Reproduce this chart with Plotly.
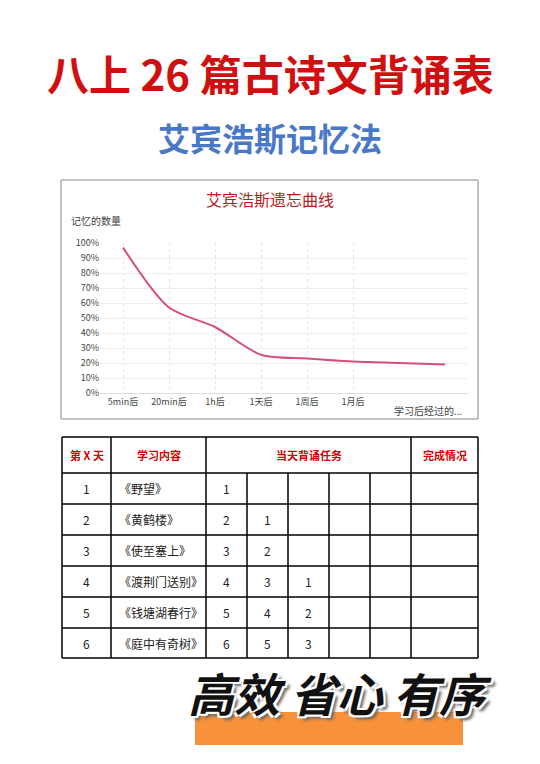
import plotly.graph_objects as go

# 页面有 8px 边距，图形尺寸相应缩小
OFF = 8
W, H = 540 - OFF, 764 - OFF

# 遗忘曲线数据
x_pos = [0, 1, 2, 3, 4, 5, 6, 7]
memory = [97, 57, 44, 25.5, 23, 21, 20, 19]
x_labels = ["5min后", "20min后", "1h后", "1天后", "1周后", "1月后"]
y_ticks = [0, 10, 20, 30, 40, 50, 60, 70, 80, 90, 100]

# 背诵表数据
headers = ["第 X 天", "学习内容", "当天背诵任务", "完成情况"]
days = ["1", "2", "3", "4", "5", "6"]
poems = ["《野望》", "《黄鹤楼》", "《使至塞上》", "《渡荆门送别》", "《钱塘湖春行》", "《庭中有奇树》"]
tasks = [["1"], ["2", "1"], ["3", "2"], ["4", "3", "1"], ["5", "4", "2"], ["6", "5", "3"]]

col_x = [62, 111, 206, 247, 288, 329, 370, 411, 478]
row_y = [437, 473, 504, 535, 566, 597, 628, 658]


def px(x):
    return (x - OFF) / W


def py(y):
    return 1 - (y - OFF) / H


FONT = "Noto Sans CJK SC"

fig = go.Figure()
fig.add_trace(go.Scatter(
    x=x_pos, y=memory, mode="lines", line=dict(color="#d4507a", width=2, shape="spline", smoothing=0.8),
    hoverinfo="y", showlegend=False,
))

shapes = []
ann = []


def text(t, x, y, size, color, xanchor="center", **kw):
    ann.append(dict(text=t, x=px(x), y=py(y), xref="paper", yref="paper", xanchor=xanchor, yanchor="middle",
                    showarrow=False, font=dict(family=FONT, size=size, color=color, **kw)))


# 图表外框
shapes.append(dict(type="rect", xref="paper", yref="paper", x0=px(61), x1=px(478), y0=py(419), y1=py(180),
                   line=dict(color="#888", width=1)))

# 表格线
lw = dict(color="black", width=1.5)
for y in row_y:
    shapes.append(dict(type="line", xref="paper", yref="paper", x0=px(col_x[0]), x1=px(col_x[-1]),
                       y0=py(y), y1=py(y), line=lw))
for i, x in enumerate(col_x):
    top = row_y[1] if 3 <= i <= 6 else row_y[0]
    shapes.append(dict(type="line", xref="paper", yref="paper", x0=px(x), x1=px(x),
                       y0=py(top), y1=py(row_y[-1]), line=lw))

# 表头
hdr_centers = [(col_x[0] + col_x[1]) / 2, (col_x[1] + col_x[2]) / 2, (col_x[2] + col_x[7]) / 2, (col_x[7] + col_x[8]) / 2]
for t, cx in zip(headers, hdr_centers):
    text("<b>%s</b>" % t, cx, (row_y[0] + row_y[1]) / 2, 11, "#d00000")

for r in range(len(days)):
    cy = (row_y[r + 1] + row_y[r + 2]) / 2
    text(days[r], (col_x[0] + col_x[1]) / 2, cy, 12, "#222")
    text(poems[r], col_x[1] + 6, cy, 12, "#222", xanchor="left")
    for c, v in enumerate(tasks[r]):
        text(v, col_x[2 + c] + 20, cy, 12, "#222")

# 标题
text("<b>八上 26 篇古诗文背诵表</b>", 270, 72, 42, "#d01010")
text("<b>艾宾浩斯记忆法</b>", 270, 137, 32, "#4a78c8")
text("艾宾浩斯遗忘曲线", 270, 199, 16, "#b81c1c")
text("记忆的数量", 69, 220, 10, "#444", xanchor="left")
text("学习后经过的...", 428, 410, 10, "#444")

# 底部标语
shapes.append(dict(type="rect", xref="paper", yref="paper", x0=px(195), x1=px(463), y0=py(745), y1=py(712),
                   fillcolor="#f7913a", line=dict(width=0), layer="below"))
text("<b><i>高效 省心 有序</i></b>", 340, 692, 46, "#111",
     shadow="2px 2px 0 #fff, -2px -2px 0 #fff, 2px -2px 0 #fff, -2px 2px 0 #fff, 4px 4px 3px #666")

fig.update_layout(
    width=W, height=H, margin=dict(l=0, r=0, t=0, b=0, pad=0, autoexpand=False),
    paper_bgcolor="white", plot_bgcolor="white",
    font=dict(family=FONT),
    shapes=shapes, annotations=ann,
    xaxis=dict(domain=[px(100), px(468)], range=[-0.5, 7.5], tickvals=x_pos[:6], ticktext=x_labels,
               showgrid=True, gridcolor="#e6e6e6", griddash="dot", zeroline=False, automargin=False,
               tickfont=dict(size=9, color="#444"), showline=True, linecolor="#ddd"),
    yaxis=dict(domain=[py(393), py(243)], range=[0, 100], tickvals=y_ticks, automargin=False,
               ticktext=["%d%%" % v for v in y_ticks], showgrid=True, gridcolor="#eeeeee",
               zeroline=False, tickfont=dict(size=9, color="#444")),
)

fig.write_html("out.html")
